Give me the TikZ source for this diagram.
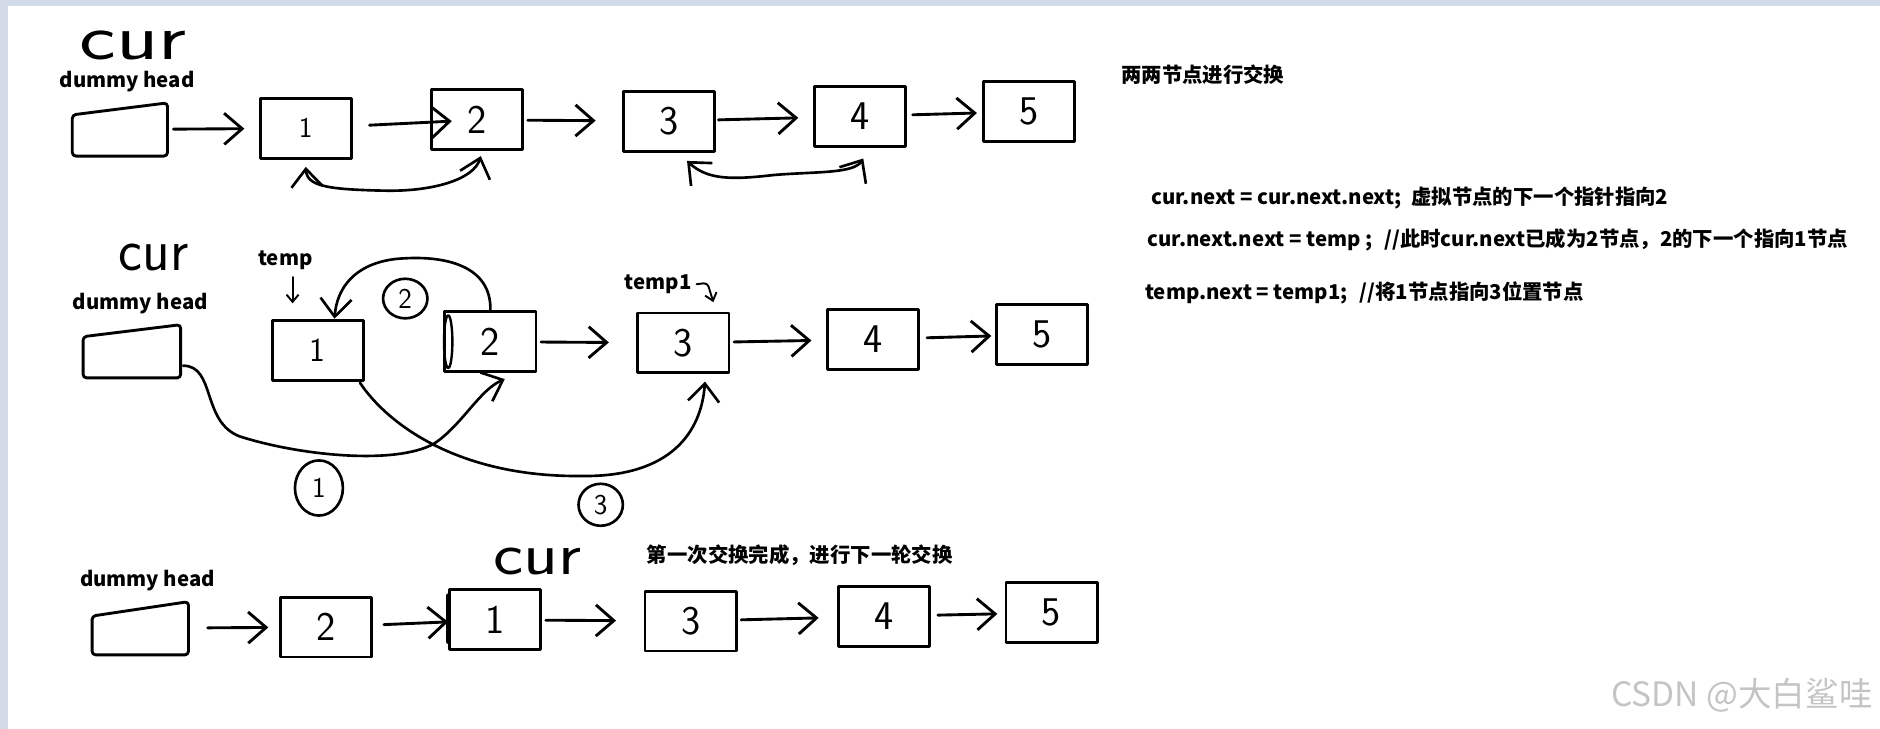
\documentclass[tikz,border=0pt]{standalone}
\usepackage{fontspec}
\newfontfamily\cjk{Noto Sans CJK SC}
\usetikzlibrary{positioning, calc, arrows.meta, shapes.geometric}
\definecolor{frame}{HTML}{D3DBE8}
\definecolor{watermark}{HTML}{C4C4C4}

\begin{document}
\begin{tikzpicture}[
    x=1pt, y=1pt,
    >={Straight Barb[length=15pt,width=26pt]},
    line cap=round, line join=round,
    listbox/.style={
        draw,
        line width=2.4pt,
        minimum width=76pt,
        minimum height=50pt,
        inner sep=0pt,
        font=\sffamily\fontsize{34}{34}\selectfont
    },
    headbox/.style={minimum width=79pt, minimum height=44pt, inner sep=0pt},
    headline/.style={line width=2.4pt, rounded corners=3pt},
    link/.style={->, line width=2.4pt, shorten <=4pt, shorten >=10pt},
    bendlink/.style={->, line width=2.2pt},
    swaplink/.style={<->, line width=2.2pt},
    boldtext/.style={font=\cjk\bfseries\fontsize{17}{19}\selectfont, inner sep=0pt},
    note/.style={boldtext, anchor=west},
    hand/.style={font=\sffamily\fontsize{50}{50}\selectfont, inner sep=0pt},
    stepmark/.style={
        draw,
        ellipse,
        line width=2.2pt,
        inner sep=0pt,
        font=\sffamily\fontsize{24}{24}\selectfont
    }
]
\useasboundingbox (0,0) rectangle (1568,-608);
\fill[frame] (0,0) rectangle (1568,-5);
\fill[frame] (0,0) rectangle (7,-608);

% first row
\node[hand, font=\sffamily\fontsize{54}{54}\selectfont, xscale=1.35] (cur1) at (111,-38) {cur};
\node[boldtext] (dh1) at (106,-68) {dummy head};
\node[headbox] (d1) at (100,-108) {};
\draw[headline] (d1.south west) -- ([yshift=-10pt]d1.north west) -- (d1.north east) -- (d1.south east) -- cycle;
\node[listbox, font=\sffamily\fontsize{24}{24}\selectfont] (r1n1) at (255,-107) {1};
\node[listbox] (r1n2) at (398,-100) {2};
\node[listbox] (r1n3) at (558,-101) {3};
\node[listbox] (r1n4) at (717,-97) {4};
\node[listbox] (r1n5) at (858,-93) {5};

\draw[link, shorten <=5pt, shorten >=12pt] (d1) -- (r1n1);
\draw[link, shorten <=14pt, shorten >=-18pt] (r1n1) -- (r1n2);
\draw[link, shorten <=3pt, shorten >=22pt] (r1n2) -- (r1n3);
\draw[link, shorten <=2pt, shorten >=12pt] (r1n3) -- (r1n4);
\draw[link, shorten <=5pt, shorten >=4pt] (r1n4) -- (r1n5);

\draw[swaplink] ([xshift=3pt,yshift=-4pt]r1n2.south) .. controls (395,-150) and (360,-160) .. (320,-159)
    .. controls (272,-158) and (256,-155) .. ([yshift=-6pt]r1n1.south);
\draw[swaplink] ([xshift=3pt,yshift=-9pt]r1n4.south) .. controls (712,-145) and (680,-143) .. (645,-146)
    .. controls (610,-150) and (590,-150) .. ([xshift=15pt,yshift=-7pt]r1n3.south);

% notes on the right
\node[note] (title) at (935,-62) {两两节点进行交换};
\node[note] (line1) at (960,-165) {cur.next = cur.next.next;\hspace{8pt}虚拟节点的下一个指针指向2};
\node[note] (line2) at (957,-200) {cur.next.next = temp ;\hspace{10pt}//此时cur.next已成为2节点，2的下一个指向1节点};
\node[note] (line3) at (955,-244) {temp.next = temp1;\hspace{10pt}//将1节点指向3位置节点};

% second row
\node[hand, xscale=0.95] (cur2) at (128,-215) {cur};
\node[boldtext] (temp) at (238,-217) {temp};
\coordinate (tempptr) at (244,-253);
\draw[->, line width=1.6pt, >={Straight Barb[length=6pt,width=10pt]}] ([xshift=6pt,yshift=-6pt]temp.south) -- (tempptr);
\node[boldtext] (dh2) at (117,-253) {dummy head};
\node[headbox, minimum width=81pt] (d2) at (110,-293) {};
\draw[headline] (d2.south west) -- ([yshift=-10pt]d2.north west) -- (d2.north east) -- (d2.south east) -- cycle;
\node[listbox, font=\sffamily\fontsize{28}{28}\selectfont] (r2n1) at (265,-292) {1};
\node[listbox] (r2n2) at (409,-285) {2};
\draw[line width=2pt] ([xshift=4pt]r2n2.west) ellipse (3.5pt and 22pt);
\node[boldtext] (temp1) at (549,-237) {temp1};
\coordinate (tempbptr) at (595,-252);
\draw[->, line width=1.6pt, rounded corners=3pt, >={Straight Barb[length=6pt,width=10pt]}] ([xshift=4pt]temp1.east) -- ++(9,1) -- (tempbptr);
\node[listbox] (r2n3) at (570,-286) {3};
\node[listbox] (r2n4) at (728,-283) {4};
\node[listbox] (r2n5) at (869,-279) {5};

\draw[link, shorten <=3pt, shorten >=23pt] (r2n2) -- (r2n3);
\draw[link, shorten <=3pt, shorten >=12pt] (r2n3) -- (r2n4);
\draw[link, shorten <=6pt, shorten >=3pt] (r2n4) -- (r2n5);

\draw[bendlink] ([xshift=2pt,yshift=-12pt]d2.east) .. controls (180,-305) and (168,-352) .. (200,-364)
    .. controls (250,-380) and (330,-388) .. (362,-370)
    .. controls (385,-355) and (400,-325) .. ([xshift=12pt,yshift=-5pt]r2n2.south);
\draw[bendlink] ([xshift=-4pt,yshift=-1pt]r2n1.south east) .. controls (322,-352) and (380,-398) .. (485,-397)
    .. controls (560,-398) and (585,-360) .. ([xshift=18pt,yshift=-6pt]r2n3.south);
\draw[bendlink] (r2n2.north) .. controls (410,-222) and (372,-212) .. (330,-216)
    .. controls (296,-220) and (281,-240) .. ([xshift=14pt]r2n1.north);

\node[stepmark, minimum width=40pt, minimum height=46pt] (stepone) at (266,-407) {1};
\node[stepmark, minimum width=37pt, minimum height=33pt] (steptwo) at (338,-249) {2};
\node[stepmark, minimum width=37pt, minimum height=35pt] (stepthree) at (501,-421) {3};

% third row
\node[hand, xscale=1.2] (cur3) at (448,-468) {cur};
\node[boldtext] (done) at (667,-463) {第一次交换完成，进行下一轮交换};
\node[boldtext] (dh3) at (123,-484) {dummy head};
\node[headbox, minimum width=80pt] (d3) at (117,-524) {};
\draw[headline] (d3.south west) -- ([yshift=-12pt]d3.north west) -- (d3.north east) -- (d3.south east) -- cycle;
\node[listbox] (r3n2) at (272,-523) {2};
\node[listbox] (r3n1) at (413,-517) {1};
\draw[line width=4pt] ([yshift=-6pt]r3n1.north west) -- ([yshift=8pt]r3n1.south west);
\node[listbox] (r3n3) at (576,-518) {3};
\node[listbox] (r3n4) at (737,-514) {4};
\node[listbox] (r3n5) at (877,-511) {5};

\draw[link, shorten <=16pt, shorten >=9pt] (d3) -- (r3n2);
\draw[link, shorten <=9pt, shorten >=0pt] (r3n2) -- (r3n1);
\draw[link, shorten <=3pt, shorten >=23pt] (r3n1) -- (r3n3);
\draw[link, shorten <=3pt, shorten >=15pt] (r3n3) -- (r3n4);
\draw[link, shorten <=6pt, shorten >=6pt] (r3n4) -- (r3n5);

\node[font=\cjk\fontsize{28}{30}\selectfont, text=watermark, anchor=east, inner sep=0pt] (mark) at (1562,-580) {CSDN @大白鲨哇};
\end{tikzpicture}
\end{document}
